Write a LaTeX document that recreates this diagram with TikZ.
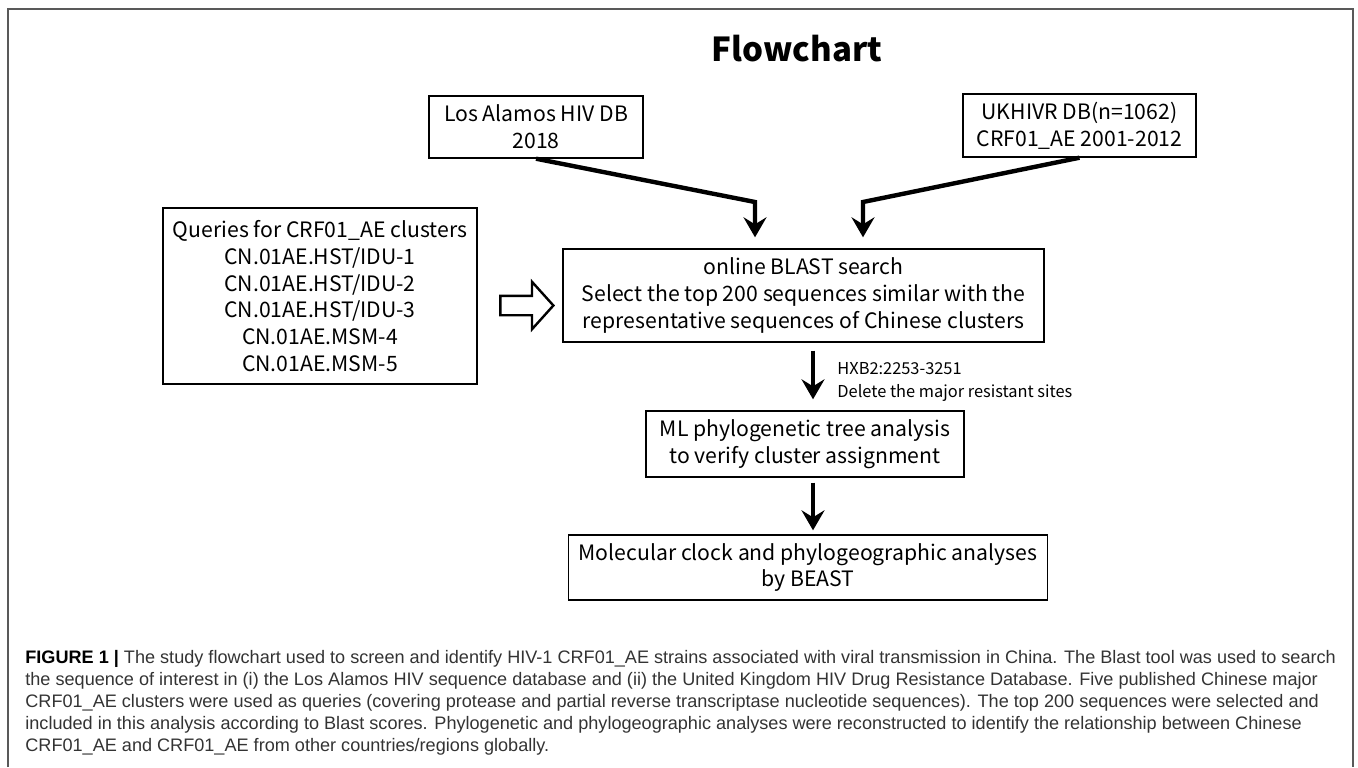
\documentclass[tikz,border=0pt]{standalone}
\usepackage{fontspec}
\setmainfont{Noto Sans CJK SC}
\newfontfamily\capfont{Liberation Sans}
\usetikzlibrary{arrows.meta,shapes.arrows}

\tikzset{
  box/.style={draw, line width=0.7pt, align=center, inner sep=0pt,
    font=\fontsize{10.6}{13.4}\selectfont},
  flow/.style={line width=2.2pt, -{Stealth[length=10pt,width=11.5pt,inset=3.5pt]}},
}

\begin{document}
\begin{tikzpicture}[x=0.5pt,y=-0.5pt]
\useasboundingbox (0,0) rectangle (1358,767);
\draw[line width=1pt, black!65] (8,767) -- (8,9) -- (1353,9) -- (1353,767);

\node[font=\bfseries\fontsize{16.5}{20}\selectfont] (title) at (797,49) {Flowchart};

\node[box, minimum width=107pt, minimum height=31pt] (los) at (536,127) {Los Alamos HIV DB\\2018};
\node[box, minimum width=116.5pt, minimum height=31.5pt] (ukh) at (1079.5,125.5) {UKHIVR DB(n=1062)\\CRF01\_AE 2001-2012};
\node[box, minimum width=157pt, minimum height=88pt] (qry) at (320,296) {Queries for CRF01\_AE clusters\\CN.01AE.HST/IDU-1\\CN.01AE.HST/IDU-2\\CN.01AE.HST/IDU-3\\CN.01AE.MSM-4\\CN.01AE.MSM-5};
\node[box, minimum width=240.5pt, minimum height=46.5pt] (blast) at (803.5,295.5) {online BLAST search\\Select the top 200 sequences similar with the\\representative sequences of Chinese clusters};
\node[box, minimum width=159pt, minimum height=33pt] (ml) at (805,444) {ML phylogenetic tree analysis\\to verify cluster assignment};
\node[box, minimum width=239.5pt, minimum height=32.5pt] (beast) at (808,567.5) {Molecular clock and phylogeographic analyses\\by BEAST};

\node[single arrow, draw, line width=1.2pt, inner sep=4.25pt, minimum height=26.5pt,
  minimum width=22.5pt, single arrow head extend=7pt, single arrow tip angle=96] (qarrow) at (522.5,305.5) {};

\coordinate (losbend) at (755,202);
\coordinate (ukhbend) at (863,202);
\coordinate (mid) at (813,0);
\draw[flow] (los.south) -- (losbend) -- ([yshift=5.5pt]losbend |- blast.north);
\draw[flow] (ukh.south) -- (ukhbend) -- ([yshift=5.5pt]ukhbend |- blast.north);
\draw[flow] ([yshift=-4pt]blast.south -| mid) -- ([yshift=5.5pt]ml.north -| mid);
\draw[flow] ([yshift=-2.5pt]ml.south -| mid) -- ([yshift=2pt]beast.north -| mid);

\node[anchor=west, align=left, inner sep=0pt, font=\fontsize{8.2}{11.5}\selectfont] (hxb) at (837,382) {HXB2:2253-3251\\Delete the major resistant sites};

\node[anchor=north west, align=left, inner sep=0pt, text=black!80,
  font=\capfont\fontsize{9.05}{11}\selectfont] (caption) at (25,650)
  {\textcolor{black}{\textbf{FIGURE 1 |}} The study flowchart used to screen and identify HIV-1 CRF01\_AE strains associated with viral transmission in China. The Blast tool was used to search\\
  the sequence of interest in (i) the Los Alamos HIV sequence database and (ii) the United Kingdom HIV Drug Resistance Database. Five published Chinese major\\
  CRF01\_AE clusters were used as queries (covering protease and partial reverse transcriptase nucleotide sequences). The top 200 sequences were selected and\\
  included in this analysis according to Blast scores. Phylogenetic and phylogeographic analyses were reconstructed to identify the relationship between Chinese\\
  CRF01\_AE and CRF01\_AE from other countries/regions globally.};
\end{tikzpicture}
\end{document}
